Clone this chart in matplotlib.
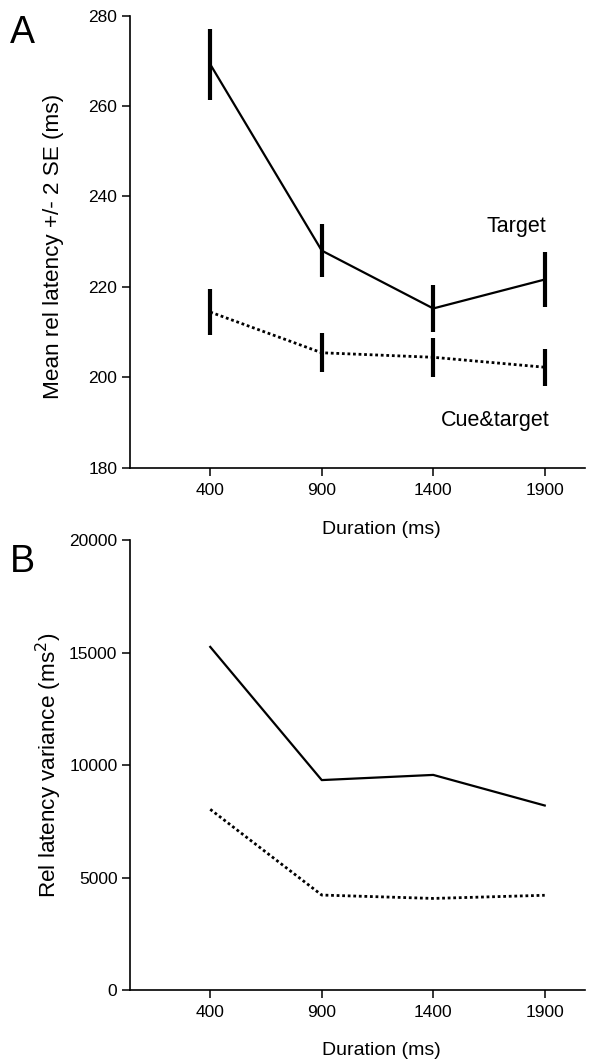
import numpy as np
import matplotlib.pyplot as plt

plt.rcParams['font.family'] = ['Liberation Sans', 'DejaVu Sans']

durations = [400, 900, 1400, 1900]

# panel A: mean rel latency and 2 SE
target_mean = [269.2, 228.0, 215.2, 221.6]
target_se2 = [7.9, 5.9, 5.1, 6.0]
cue_mean = [214.4, 205.4, 204.4, 202.2]
cue_se2 = [5.1, 4.3, 4.3, 4.1]

# panel B: variance
target_var = [15250, 9330, 9560, 8200]
cue_var = [8030, 4220, 4070, 4210]

fig = plt.figure(figsize=(5.9, 10.62), dpi=100)
axA = fig.add_axes([0.2203, 0.5597, 0.771, 0.4257])
axB = fig.add_axes([0.2203, 0.0678, 0.771, 0.4237])


def style(ax):
    ax.patch.set_alpha(0)
    for s in ['top', 'right']:
        ax.spines[s].set_visible(False)
    for s in ['left', 'bottom']:
        ax.spines[s].set_linewidth(1.2)
    ax.tick_params(direction='out', length=6, width=1.1, labelsize=12.5)
    ax.tick_params(axis='y', pad=3)
    ax.tick_params(axis='x', pad=5)
    ax.set_xlim(40, 2080)
    ax.set_xticks(durations)


# A
axA.plot(durations, target_mean, color='black', lw=1.6, ls='-')
axA.plot(durations, cue_mean, color='black', lw=2.0, ls=(0, (1, 1)))
axA.errorbar(durations, target_mean, yerr=target_se2, fmt='none', ecolor='black',
             elinewidth=3, capsize=0)
axA.errorbar(durations, cue_mean, yerr=cue_se2, fmt='none', ecolor='black',
             elinewidth=3, capsize=0)
style(axA)
axA.set_ylim(180, 280)
axA.set_yticks([180, 200, 220, 240, 260, 280])
axA.set_xlabel('Duration (ms)', fontsize=14)
axA.set_ylabel('Mean rel latency +/- 2 SE (ms)', fontsize=16.2)
axA.yaxis.set_label_coords(-0.145, 0.49)
axA.xaxis.set_label_coords(0.552, -0.118)
axA.text(1907, 232.2, 'Target', fontsize=15.5, ha='right', va='baseline')
axA.text(1920, 189.2, 'Cue&target', fontsize=15.5, ha='right', va='baseline')
fig.text(0.017, 0.986, 'A', fontsize=27, va='top')

# B
axB.plot(durations, target_var, color='black', lw=1.6, ls='-')
axB.plot(durations, cue_var, color='black', lw=2.0, ls=(0, (1, 1)))
style(axB)
axB.set_ylim(0, 20000)
axB.set_yticks([0, 5000, 10000, 15000, 20000])
axB.set_xlabel('Duration (ms)', fontsize=14)
axB.set_ylabel('Rel latency variance (ms$^2$)', fontsize=16.2)
axB.yaxis.set_label_coords(-0.145, 0.5)
axB.xaxis.set_label_coords(0.552, -0.116)
fig.text(0.017, 0.488, 'B', fontsize=27, va='top')

fig.savefig('out.png', dpi=100)
